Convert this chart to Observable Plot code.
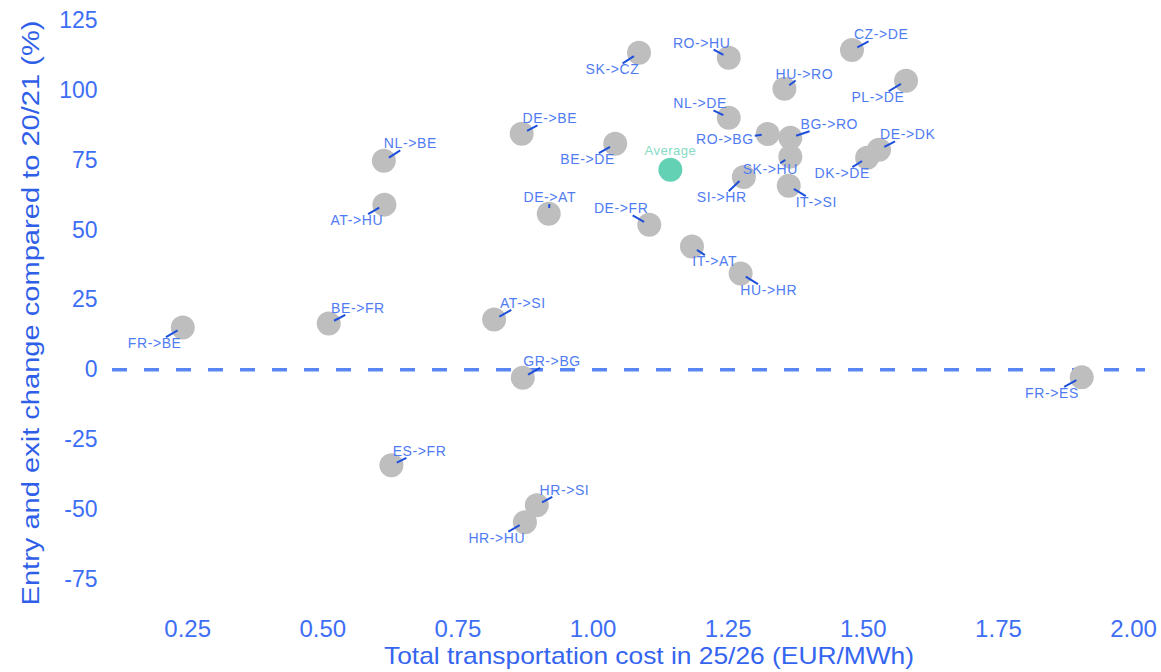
<!DOCTYPE html>
<html>
<head>
<meta charset="utf-8">
<script src="https://cdn.jsdelivr.net/npm/d3@7"></script>
<script src="https://cdn.jsdelivr.net/npm/@observablehq/plot@0.6"></script>
<style>
  body { margin: 0; background: #ffffff; }
  #chart svg { display: block; }
</style>
</head>
<body>
<div id="chart"></div>
<script>
// ---- data ----
const routes = ["FR->BE","BE->FR","AT->SI","GR->BG","ES->FR","HR->SI","HR->HU","NL->BE","AT->HU","DE->AT",
  "FR->ES","DE->FR","IT->AT","HU->HR","SI->HR","IT->SI","SK->HU","BG->RO","RO->BG","NL->DE",
  "RO->HU","SK->CZ","HU->RO","CZ->DE","PL->DE","DE->DK","DK->DE","DE->BE","BE->DE"];
const cost = [0.241,0.511,0.817,0.870,0.627,0.896,0.874,0.613,0.614,0.918,
  1.904,1.104,1.183,1.273,1.279,1.362,1.365,1.365,1.323,1.251,
  1.251,1.085,1.354,1.479,1.579,1.529,1.507,0.868,1.041];
const change = [15.2,16.6,18.0,-2.8,-34.2,-48.5,-54.6,74.9,59.2,55.9,
  -2.7,52.0,44.2,34.5,69.1,66.0,76.4,83.2,84.5,90.3,
  111.8,113.6,100.7,114.6,103.6,78.9,76.0,84.6,81.0];
// repelled label anchor positions (data units)
const labelCost = [0.189,0.565,0.870,0.924,0.679,0.947,0.822,0.662,0.563,0.920,
  1.849,1.052,1.225,1.325,1.238,1.413,1.328,1.437,1.244,1.198,
  1.201,1.036,1.391,1.533,1.527,1.582,1.461,0.920,0.990];
const labelChange = [9.4,22.0,23.8,3.0,-29.2,-43.2,-60.3,81.0,53.5,61.7,
  -8.4,57.7,38.8,28.4,61.7,59.9,71.7,87.8,82.4,95.3,
  117.1,107.5,106.0,120.0,97.5,84.2,70.3,89.9,75.3];
const averageName = "Average";
const averageCost = 1.143;
const averageChange = 71.7;
const averageLabelChange = 78.6;
const xTicks = [0.25,0.50,0.75,1.00,1.25,1.50,1.75,2.00];
const yTicks = [-75,-50,-25,0,25,50,75,100,125];
const xTitle = "Total transportation cost in 25/26 (EUR/MWh)";
const yTitle = "Entry and exit change compared to 20/21 (%)";

// ---- layout ----
const W = 1161, H = 672, mL = 112, mR = 16, mT = 6, mB = 73;
const xDomain = [0.111, 2.022], yDomain = [-82.3, 130.2];
const xs = d3.scaleLinear(xDomain, [mL, W - mR]);
const ys = d3.scaleLinear(yDomain, [H - mB, mT]);

const labelFont = "14px 'Liberation Sans', Arial, sans-serif";
const labelSpacing = 0.6;
const ctx = document.createElement("canvas").getContext("2d");
ctx.font = labelFont;

const rows = routes.map((r, i) => ({route: r, cost: cost[i], change: change[i], lc: labelCost[i], lv: labelChange[i]}));

// leader segments: from near the point to the edge of the label box
const segments = [];
for (const d of rows) {
  const px = xs(d.cost), py = ys(d.change), lx = xs(d.lc), ly = ys(d.lv);
  const ddx = lx - px, ddy = ly - py, dist = Math.hypot(ddx, ddy);
  if (!dist) continue;
  const ux = ddx / dist, uy = ddy / dist;
  const w = ctx.measureText(d.route).width + labelSpacing * d.route.length;
  const hw = w / 2 + 1, hh = 6.5;
  const tEnd = dist - Math.min(ux ? hw / Math.abs(ux) : Infinity, uy ? hh / Math.abs(uy) : Infinity);
  const tStart = 6;
  if (tEnd > tStart + 1) {
    segments.push({
      x1: xs.invert(px + ux * tStart), y1: ys.invert(py + uy * tStart),
      x2: xs.invert(px + ux * tEnd), y2: ys.invert(py + uy * tEnd)
    });
  }
}

const axisBlue = "#3d6ef5";
const plot = Plot.plot({
  width: W, height: H,
  marginLeft: mL, marginRight: mR, marginTop: mT, marginBottom: mB,
  style: {fontFamily: "'Liberation Sans', Arial, sans-serif", color: axisBlue, background: "#ffffff"},
  x: {domain: xDomain, range: [mL, W - mR]},
  y: {domain: yDomain, range: [H - mB, mT]},
  marks: [
    Plot.axisX(xTicks, {tickSize: 0, tickPadding: 20, fontSize: 24, tickFormat: d3.format(".2f"), label: null}),
    Plot.axisY(yTicks, {tickSize: 0, tickPadding: 15, fontSize: 23, tickFormat: d => String(d), label: null}),
    Plot.ruleY([0], {stroke: "#5a86f5", strokeWidth: 3.5, strokeDasharray: "15,17"}),
    Plot.dot(rows, {x: "cost", y: "change", r: 12, fill: "#bebebe", stroke: "none"}),
    Plot.dot([{c: averageCost, v: averageChange}], {x: "c", y: "v", r: 12, fill: "#63d2b4", stroke: "none"}),
    Plot.link(segments, {x1: "x1", y1: "y1", x2: "x2", y2: "y2", stroke: "#1d4fdb", strokeWidth: 2}),
    Plot.text(rows, {x: "lc", y: "lv", text: "route", fill: "#4f7cf2", fontSize: 14, textAnchor: "middle", lineAnchor: "middle"}),
    Plot.text([{c: averageCost, v: averageLabelChange, t: averageName}], {x: "c", y: "v", text: "t", fill: "#86dcc4", fontSize: 13, textAnchor: "middle", lineAnchor: "middle"}),
    Plot.text([xTitle], {text: d => d, frameAnchor: "bottom", textAnchor: "middle", dx: 20, dy: 57, fontSize: 24, fill: "#3565f0", lineAnchor: "middle"}),
    Plot.text([yTitle], {text: d => d, frameAnchor: "left", textAnchor: "middle", rotate: -90, dx: -81, dy: 10, fontSize: 23, fill: "#2f5fe8", lineAnchor: "middle"})
  ]
});

const sel = d3.select(plot);
sel.selectAll("text").filter(function() { return routes.includes(this.textContent); })
  .style("letter-spacing", labelSpacing + "px");
sel.selectAll("text").filter(function() { return this.textContent === averageName; })
  .style("letter-spacing", "0.5px");
sel.selectAll("text").filter(function() { return this.textContent === xTitle; })
  .attr("textLength", 530).attr("lengthAdjust", "spacingAndGlyphs");
sel.selectAll("text").filter(function() { return this.textContent === yTitle; })
  .attr("textLength", 585).attr("lengthAdjust", "spacingAndGlyphs");

document.getElementById("chart").append(plot);
</script>
</body>
</html>
